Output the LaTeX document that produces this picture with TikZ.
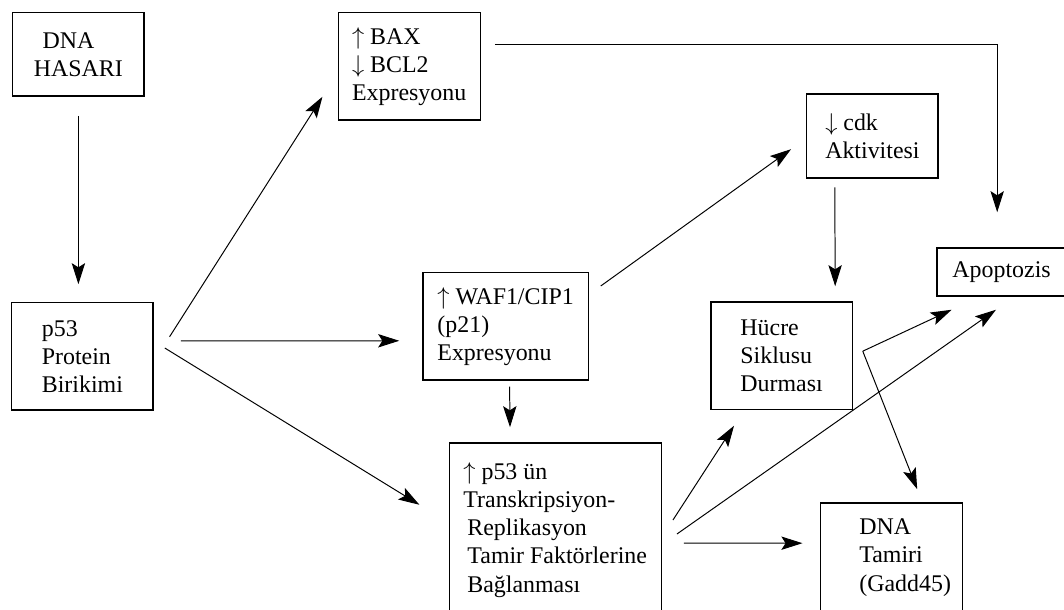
\documentclass[tikz,border=0pt]{standalone}
\usepackage{fontspec}
\setmainfont{Liberation Serif}
\usepackage{tikz}
\usetikzlibrary{arrows.meta, calc}

\begin{document}
\begin{tikzpicture}[
    kutu/.style={rectangle, draw=black, line width=0.8pt, align=left,
                 font=\fontsize{17pt}{20pt}\selectfont},
    ok/.style={-{Stealth[length=15pt, width=9.5pt, inset=3pt]}, line width=0.7pt}
  ]
    \useasboundingbox (0,0) rectangle (26.6,15.25);

    \node[kutu, minimum width=3.28cm, minimum height=2.08cm](hasar) at (1.96,13.89)
         {\hspace*{0.22cm}DNA\\HASARI};
    \node[kutu, minimum width=3.53cm, minimum height=2.68cm](p53) at (2.06,6.34)
         {p53\\Protein\\Birikimi};
    \node[kutu, minimum width=3.55cm, minimum height=2.68cm](bax) at (10.23,13.59)
         {$\uparrow$ BAX\\$\downarrow$ BCL2\\Expresyonu};
    \node[kutu, minimum width=4.13cm, minimum height=2.68cm](waf) at (12.64,7.09)
         {$\uparrow$ WAF1/CIP1\\(p21)\\Expresyonu};
    \node[kutu, minimum width=3.28cm, minimum height=2.1cm](cdk) at (21.81,11.85)
         {$\downarrow$ cdk\\Aktivitesi};
    \node[kutu, minimum width=3.23cm, minimum height=1.2cm](apop) at (25.04,8.45)
         {Apoptozis};
    \node[kutu, minimum width=3.53cm, minimum height=2.68cm](hucre) at (19.54,6.36)
         {Hücre\\Siklusu\\Durması};
    \node[kutu, minimum width=5.3cm, minimum height=4.35cm](baglan) at (13.88,2.0)
         {$\uparrow$ p53 ün\\Transkripsiyon-\\\,Replikasyon\\\,Tamir Faktörlerine\\\,Bağlanması};
    \node[kutu, minimum width=3.55cm, minimum height=2.73cm](tamir) at (22.28,1.31)
         {\hspace*{0.7cm}DNA\\\hspace*{0.7cm}Tamiri\\\hspace*{0.7cm}(Gadd45)};

    % p53 birikimi
    \draw[ok, shorten <=0.48cm, shorten >=0.45cm] (hasar.south) -- (hasar.south |- p53.north);
    \draw[ok] ($(p53.east)+(0.4,0.49)$) -- ($(bax.west)+(-0.38,-0.76)$);
    \draw[ok] ($(p53.east)+(0.68,0.39)$) -- ($(waf.west)+(-0.58,-0.36)$);
    \draw[ok] ($(p53.east)+(0.28,0.21)$) -- ($(baglan.west)+(-0.73,0.63)$);

    % apoptozis ve siklus
    \draw[ok] ($(bax.east)+(0.35,0.54)$) -| ($(apop.north)+(-0.11,0.88)$);
    \draw[ok] ($(waf.east)+(0.3,1.01)$) -- ($(cdk.west)+(-0.38,-0.33)$);
    \draw[ok] ($(cdk.south)+(-0.94,-0.22)$) -- ($(hucre.north)+(1.34,0.38)$);
    \draw[ok] ($(waf.south)+(0.1,-0.15)$) -- ($(baglan.north)+(-1.13,0.38)$);

    % baglanma
    \draw[ok] ($(baglan.east)+(0.28,0.25)$) -- ($(hucre.south)+(-1.19,-0.4)$);
    \draw[ok] ($(baglan.east)+(0.38,-0.1)$) -- ($(apop.south)+(-0.14,-0.33)$);
    \draw[ok] ($(baglan.east)+(0.55,-0.33)$) -- ($(tamir.west)+(-0.43,0.36)$);

    \coordinate (hsplit) at ($(hucre.east)+(0.25,0.11)$);
    \draw[ok] (hsplit) -- ($(apop.south west)+(0.38,-0.33)$);
    \draw[ok] (hsplit) -- ($(tamir.north)+(0.65,0.33)$);
  \end{tikzpicture}
\end{document}
